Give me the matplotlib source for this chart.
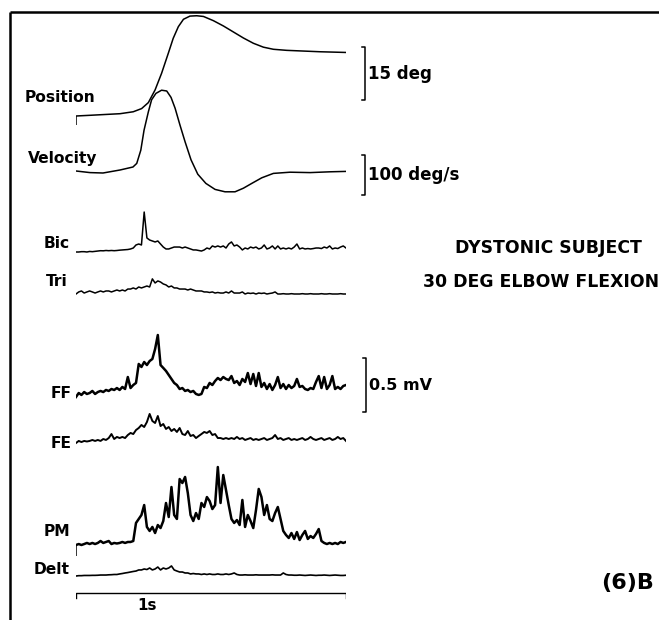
import numpy as np
import matplotlib
matplotlib.use("Agg")
import matplotlib.pyplot as plt

# ---- data ----
# position (deg) and velocity (deg/s), time in ms
pos_t_ms = [0, 52, 101, 163, 212, 243, 268, 293, 317, 342, 360, 379, 398, 422, 447,
            472, 509, 546, 583, 620, 657, 694, 731, 780, 842, 904, 1000]
pos_deg = [0, 0.2, 0.4, 0.65, 1.2, 2.1, 3.8, 7.4, 12.1, 17.8, 22.0, 25.3, 27.4, 28.3, 28.4,
           28.2, 27.0, 25.5, 23.8, 22.1, 20.6, 19.5, 18.9, 18.6, 18.4, 18.2, 18.0]
pos_start_tick = -2.6

vel_t_ms = [0, 52, 100, 163, 211, 225, 240, 252, 268, 280, 296, 317, 336, 352, 367, 385,
            404, 426, 451, 481, 515, 552, 589, 620, 651, 688, 731, 793, 867, 941, 1000]
vel_dps = [0, -4, -5, 2.5, 10, 19, 52, 102, 148, 178, 194, 202, 200, 184, 157, 115,
           73, 28, -8, -31, -46, -52, -52, -43, -31, -17, -6, -3, -4, -2, -1]

# EMG, 100 samples over 1 s, values in microvolts
bic_uv = [0, 0, 3, 3, 0, 5, 3, 6, 9, 12, 11, 14,
          12, 14, 12, 14, 17, 19, 21, 23, 28,
          37, 65, 74, 65, 370, 130, 111, 102, 93, 102, 74, 46, 28, 28, 37,
          46, 46, 46, 37, 46, 37, 28, 19, 19, 14, 9, 19, 37, 28, 56,
          46, 56, 46, 56, 37, 74, 93, 56, 65, 46, 19, 37, 28, 46, 37,
          46, 28, 37, 65, 28, 37, 56, 28, 56, 28, 37, 28, 37, 28, 46,
          74, 28, 37, 28, 32, 28, 32, 37, 37, 32, 46, 37, 56, 28, 37,
          32, 46, 56, 37]
tri_uv = [0, 19, 28, 9, 19, 28, 19, 9, 19, 28, 19, 28, 28, 19, 28, 37, 28, 37, 28, 46,
          46, 56, 46, 65, 56, 65, 74, 65, 140, 102, 121, 111, 93, 84, 65, 74, 56, 56, 46, 46,
          46, 37, 46, 37, 28, 28, 28, 19, 19, 14, 19, 9, 14, 9, 9, 19, 9, 28, 9, 9,
          9, 19, 0, 9, 5, 9, 0, 9, 5, 9, 0, 5, 9, 19, 0,
          0, 3, 0, 0, 3, 0, 0, 0, 3, 0, 0, 3, 0, 0, 0, 3, 0, 0, 3, 0, 0, 0, 3, 0, 0]
ff_uv = [0, 37, 19, 46, 28, 37, 56, 28, 46, 56,
         46, 65, 56, 74, 65, 83, 65, 93, 74, 185,
         83, 111, 130, 306, 278, 324, 296, 333, 352, 444,
         574, 296, 269, 241, 204, 167, 130, 111, 74, 83,
         56, 65, 46, 56, 28, 19, 28, 93, 83, 130,
         111, 148, 176, 157, 185, 167, 157, 194, 130, 148,
         111, 167, 139, 222, 120, 213, 102, 222, 93, 130,
         74, 120, 65, 111, 185, 83, 120, 74, 111, 83,
         102, 167, 93, 102, 74, 65, 83, 74, 139, 194,
         83, 185, 74, 111, 194, 74, 93, 74, 102, 111]
fe_uv = [0, 19, 9, 19, 14, 19, 28, 19, 28, 19,
         37, 28, 46, 83, 37, 56, 46, 56, 46, 74,
         93, 83, 120, 139, 167, 148, 194, 269, 204, 185,
         250, 157, 176, 130, 148, 111, 130, 102, 139, 83,
         74, 111, 65, 74, 46, 65, 83, 102, 93, 111,
         74, 83, 46, 46, 37, 46, 37, 46, 37, 56,
         37, 46, 28, 37, 46, 28, 37, 28, 37, 46,
         28, 37, 46, 74, 37, 46, 28, 37, 46, 28,
         37, 28, 37, 46, 28, 37, 56, 37, 28, 37,
         46, 28, 37, 46, 28, 37, 56, 37, 46, 19]
pm_uv = [0, 9, 0, 9, 19, 9, 19, 9, 19, 37,
         19, 28, 37, 9, 19, 14, 19, 28, 19, 28,
         28, 37, 204, 241, 278, 370, 167, 130, 167, 111,
         185, 157, 222, 389, 259, 537, 278, 241, 611, 574,
         630, 481, 278, 222, 296, 241, 389, 352, 444, 407,
         333, 370, 722, 389, 648, 509, 370, 241, 204, 231,
         185, 417, 167, 278, 222, 157, 324, 519, 444, 278,
         370, 241, 222, 296, 352, 241, 130, 93, 65, 111,
         56, 120, 46, 93, 130, 56, 83, 65, 102, 148,
         37, 19, 9, 19, 9, 19, 9, 28, 19, 28]
pm_start_tick = -100
delt_uv = [0, 3, 3, 5, 5, 5, 6, 6, 7, 9,
           9, 9, 11, 12, 14, 14, 19, 23, 28, 32,
           37, 42, 46, 56, 56, 65, 60, 74, 56, 65,
           83, 56, 74, 65, 74, 93, 56, 46, 37, 37,
           28, 28, 19, 23, 19, 19, 14, 19, 14, 19,
           14, 14, 19, 14, 14, 19, 14, 19, 28, 14,
           9, 9, 11, 9, 9, 9, 11, 9, 9, 9,
           9, 9, 11, 9, 9, 9, 28, 14, 9, 9,
           7, 7, 9, 7, 5, 7, 9, 7, 5, 7,
           7, 9, 7, 5, 7, 9, 7, 5, 5, 7]

trace_labels = ["Position", "Velocity", "Bic", "Tri", "FF", "FE", "PM", "Delt"]
title_lines = ["DYSTONIC SUBJECT", "30 DEG ELBOW FLEXION"]
panel_tag = "(6)B"

# ---- layout (pixels) ----
W, H = 659, 620
X0, X1 = 76, 346          # 1 s of trace
fig = plt.figure(figsize=(W / 100, H / 100), dpi=100)

base = fig.add_axes([0, 0, 1, 1])
base.set_xlim(0, W)
base.set_ylim(H, 0)
base.axis("off")
base.plot([10, W], [12, 12], color="black", lw=1.8, solid_capstyle="butt")
base.plot([10, 10], [12, H], color="black", lw=1.8, solid_capstyle="butt")


def trace_axes(zero_px, px_per_unit):
    ax = fig.add_axes([X0 / W, 0, (X1 - X0) / W, 1])
    ax.set_xlim(0, 1)
    ax.set_ylim((zero_px - H) / px_per_unit, zero_px / px_per_unit)
    ax.axis("off")
    return ax


def bracket(ax, t, lo, hi, text, fs=12):
    d = 0.012
    ax.plot([t - d, t, t, t - d], [hi, hi, lo, lo], color="black", lw=1.1, clip_on=False)
    ax.text(t + 0.01, (lo + hi) / 2, text, fontsize=fs, fontweight="bold",
            ha="left", va="center")


emg_t = np.linspace(0, 1, len(bic_uv))

ax = trace_axes(116, 3.53)
ax.plot(np.array(pos_t_ms) / 1000, pos_deg, color="black", lw=1.1)
ax.vlines(0, pos_start_tick, pos_deg[0], color="black", lw=1.1)
bracket(ax, 1.07, 4.5, 19.5, "15 deg")

ax = trace_axes(171, 0.4)
ax.plot(np.array(vel_t_ms) / 1000, vel_dps, color="black", lw=1.1)
bracket(ax, 1.07, -60, 40, "100 deg/s")

ax = trace_axes(252, 0.108)
ax.plot(emg_t, bic_uv, color="black", lw=1.1)

ax = trace_axes(294, 0.108)
ax.plot(emg_t, tri_uv, color="black", lw=1.1)

ax = trace_axes(397, 0.108)
ax.plot(emg_t, ff_uv, color="black", lw=1.8)
bracket(ax, 1.074, -139, 361, "0.5 mV", fs=11.5)

ax = trace_axes(443, 0.108)
ax.plot(emg_t, fe_uv, color="black", lw=1.4)

ax = trace_axes(545, 0.108)
ax.plot(emg_t, pm_uv, color="black", lw=1.8)
ax.vlines(0, pm_start_tick, pm_uv[0], color="black", lw=1.1)

ax = trace_axes(576, 0.108)
ax.plot(emg_t, delt_uv, color="black", lw=1.2)

# time bar, 1 s
ax = trace_axes(593, 1.0)
ax.plot([0, 0, 1, 1], [-5, 0, 0, -5], color="black", lw=1.0)
ax.text(0.263, -12, "1s", fontsize=11, fontweight="bold", ha="center", va="center")

# labels
label_x = [95, 97, 70, 68, 72, 72, 70, 70]
label_y = [98, 158, 243, 281, 393, 443, 532, 570]
for s, x, y in zip(trace_labels, label_x, label_y):
    base.text(x, y, s, fontsize=11.2, fontweight="bold", ha="right", va="center")

base.text(548, 248, title_lines[0], fontsize=12.4, fontweight="bold", ha="center", va="center")
base.text(541, 282, title_lines[1], fontsize=12.4, fontweight="bold", ha="center", va="center")
base.text(628, 583, panel_tag, fontsize=16, fontweight="bold", ha="center", va="center")

fig.savefig("out.png", dpi=100)
